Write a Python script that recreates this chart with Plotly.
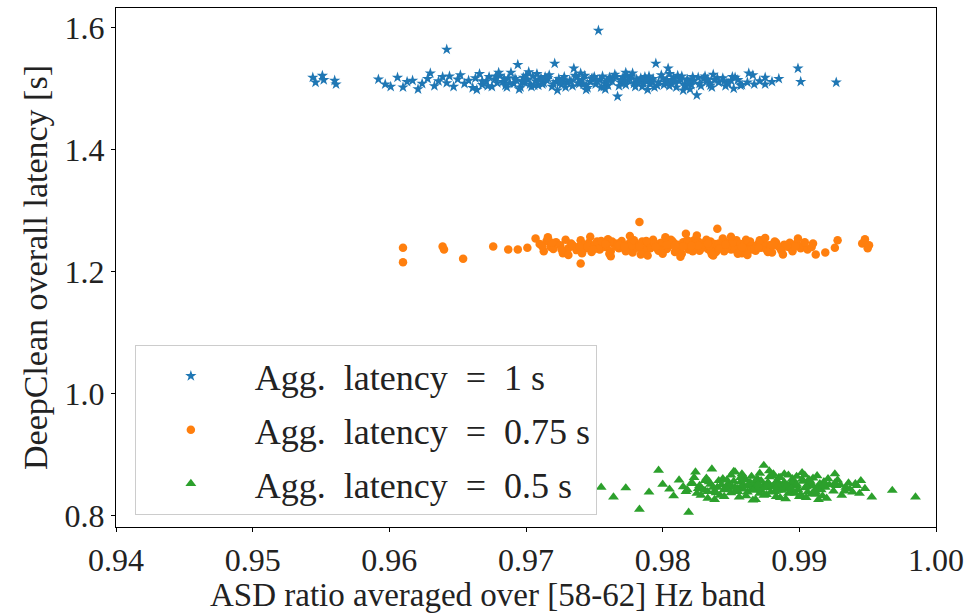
import plotly.graph_objects as go

# ---------------- data ----------------
blue_x = [
    0.9544, 0.9546, 0.9551, 0.9552, 0.9560, 0.9561, 0.9592, 0.9597, 0.9601, 0.9606,
    0.9610, 0.9613, 0.9617, 0.9621, 0.9624, 0.9628, 0.9630, 0.9633, 0.9636, 0.9639,
    0.9642, 0.9642, 0.9644, 0.9647, 0.9650, 0.9652, 0.9655, 0.9658, 0.9661, 0.9663,
    0.9666, 0.9668, 0.9671, 0.9673, 0.9675, 0.9677, 0.9679, 0.9681, 0.9683, 0.9685,
    0.9687, 0.9689, 0.9691, 0.9693, 0.9694, 0.9696, 0.9698, 0.9699, 0.9701, 0.9703,
    0.9705, 0.9707, 0.9709, 0.9711, 0.9713, 0.9715, 0.9717, 0.9719, 0.9721, 0.9722,
    0.9724, 0.9726, 0.9728, 0.9730, 0.9732, 0.9734, 0.9735, 0.9737, 0.9739, 0.9741,
    0.9743, 0.9745, 0.9747, 0.9749, 0.9751, 0.9753, 0.9754, 0.9756, 0.9758, 0.9760,
    0.9762, 0.9763, 0.9765, 0.9767, 0.9769, 0.9771, 0.9773, 0.9775, 0.9777, 0.9779,
    0.9781, 0.9783, 0.9785, 0.9787, 0.9789, 0.9791, 0.9793, 0.9795, 0.9797, 0.9799,
    0.9801, 0.9803, 0.9804, 0.9806, 0.9808, 0.9810, 0.9812, 0.9814, 0.9816, 0.9818,
    0.9820, 0.9822, 0.9825, 0.9827, 0.9830, 0.9832, 0.9835, 0.9838, 0.9841, 0.9844,
    0.9847, 0.9850, 0.9853, 0.9857, 0.9862, 0.9863, 0.9867, 0.9871, 0.9875, 0.9875,
    0.9880, 0.9885, 0.9899, 0.9901, 0.9927,
    0.9668, 0.9684, 0.9697, 0.9712, 0.9727, 0.9738, 0.9748, 0.9759, 0.9770, 0.9782,
    0.9792, 0.9802, 0.9813, 0.9823, 0.9834, 0.9845, 0.9855, 0.9704, 0.9733, 0.9776,
    0.9688, 0.9716, 0.9742, 0.9766, 0.9786, 0.9809, 0.9828, 0.9848, 0.9757, 0.9796,
    0.9672, 0.9678, 0.9686, 0.9692, 0.9700, 0.9706, 0.9714, 0.9720, 0.9729, 0.9736,
    0.9744, 0.9750, 0.9755, 0.9761, 0.9768, 0.9774, 0.9780, 0.9784, 0.9790, 0.9794,
    0.9800, 0.9805, 0.9811, 0.9817, 0.9821, 0.9826, 0.9831, 0.9836, 0.9840, 0.9846,
    0.9851, 0.9858, 0.9710, 0.9725, 0.9752, 0.9772, 0.9788, 0.9807, 0.9819, 0.9833,
    0.9664, 0.9680, 0.9695, 0.9708, 0.9723, 0.9740, 0.9758, 0.9773, 0.9789, 0.9805,
    0.9820, 0.9837, 0.9852, 0.9866, 0.9702, 0.9744, 0.9778, 0.9815, 0.9698, 0.9761,
]
blue_y = [
    1.518, 1.510, 1.521, 1.514, 1.513, 1.507, 1.515, 1.507, 1.503, 1.518,
    1.502, 1.511, 1.513, 1.499, 1.508, 1.516, 1.525, 1.504, 1.512, 1.519,
    1.564, 1.509, 1.520, 1.503, 1.515, 1.522, 1.508, 1.513, 1.501, 1.517,
    1.524, 1.506, 1.512, 1.519, 1.503, 1.515, 1.509, 1.521, 1.511, 1.505,
    1.517, 1.526, 1.508, 1.513, 1.539, 1.502, 1.518, 1.510, 1.515, 1.507,
    1.520, 1.512, 1.505, 1.517, 1.509, 1.514, 1.522, 1.503, 1.541, 1.511,
    1.516, 1.506, 1.519, 1.510, 1.513, 1.504, 1.533, 1.518, 1.508, 1.514,
    1.521, 1.501, 1.511, 1.517, 1.507, 1.595, 1.514, 1.520, 1.509, 1.505,
    1.516, 1.512, 1.523, 1.487, 1.510, 1.518, 1.506, 1.513, 1.520, 1.508,
    1.515, 1.511, 1.503, 1.519, 1.513, 1.507, 1.516, 1.541, 1.510, 1.522,
    1.506, 1.514, 1.533, 1.509, 1.518, 1.502, 1.512, 1.520, 1.507, 1.515,
    1.511, 1.519, 1.489, 1.508, 1.516, 1.512, 1.505, 1.514, 1.510, 1.517,
    1.509, 1.513, 1.518, 1.505, 1.510, 1.525, 1.507, 1.512, 1.518, 1.507,
    1.511, 1.516, 1.533, 1.511, 1.510,
    1.512, 1.516, 1.511, 1.507, 1.513, 1.509, 1.516, 1.511, 1.514, 1.509,
    1.512, 1.510, 1.515, 1.513, 1.509, 1.512, 1.514, 1.503, 1.511, 1.516,
    1.509, 1.517, 1.507, 1.519, 1.508, 1.511, 1.504, 1.508, 1.503, 1.505,
    1.504, 1.520, 1.502, 1.516, 1.521, 1.505, 1.519, 1.507, 1.502, 1.521,
    1.505, 1.519, 1.502, 1.518, 1.504, 1.521, 1.503, 1.517, 1.520, 1.502,
    1.517, 1.504, 1.521, 1.503, 1.506, 1.518, 1.520, 1.502, 1.517, 1.504,
    1.519, 1.506, 1.514, 1.510, 1.512, 1.509, 1.514, 1.513, 1.510, 1.515,
    1.498, 1.526, 1.499, 1.524, 1.497, 1.525, 1.499, 1.526, 1.498, 1.524,
    1.499, 1.523, 1.500, 1.522, 1.527, 1.498, 1.525, 1.497, 1.511, 1.513,
]

orange_x = [
    0.9610, 0.9610, 0.9639, 0.9640, 0.9654, 0.9676, 0.9687, 0.9694, 0.9701, 0.9707,
    0.9710, 0.9713, 0.9715, 0.9718, 0.9720, 0.9722, 0.9725, 0.9727, 0.9729, 0.9731,
    0.9733, 0.9735, 0.9737, 0.9740, 0.9740, 0.9742, 0.9744, 0.9746, 0.9748, 0.9750,
    0.9752, 0.9754, 0.9756, 0.9758, 0.9760, 0.9762, 0.9764, 0.9766, 0.9768, 0.9770,
    0.9772, 0.9774, 0.9776, 0.9778, 0.9780, 0.9782, 0.9783, 0.9785, 0.9787, 0.9789,
    0.9791, 0.9793, 0.9795, 0.9797, 0.9799, 0.9801, 0.9803, 0.9805, 0.9807, 0.9809,
    0.9811, 0.9813, 0.9815, 0.9817, 0.9819, 0.9821, 0.9823, 0.9825, 0.9827, 0.9829,
    0.9831, 0.9833, 0.9835, 0.9837, 0.9839, 0.9840, 0.9842, 0.9844, 0.9846, 0.9848,
    0.9850, 0.9852, 0.9854, 0.9856, 0.9858, 0.9860, 0.9862, 0.9864, 0.9866, 0.9868,
    0.9870, 0.9872, 0.9874, 0.9876, 0.9878, 0.9880, 0.9883, 0.9886, 0.9889, 0.9892,
    0.9895, 0.9898, 0.9901, 0.9903, 0.9906, 0.9909, 0.9912, 0.9919, 0.9926, 0.9928,
    0.9946, 0.9948, 0.9950, 0.9951,
    0.9745, 0.9757, 0.9769, 0.9781, 0.9792, 0.9804, 0.9816, 0.9828, 0.9838, 0.9849,
    0.9859, 0.9869, 0.9879, 0.9763, 0.9786, 0.9808, 0.9830, 0.9853, 0.9873, 0.9799,
    0.9753, 0.9777, 0.9798, 0.9820, 0.9843, 0.9863, 0.9884, 0.9812, 0.9835, 0.9790,
    0.9712, 0.9719, 0.9726, 0.9734, 0.9741, 0.9749, 0.9755, 0.9761, 0.9767, 0.9773,
    0.9779, 0.9784, 0.9788, 0.9794, 0.9800, 0.9806, 0.9810, 0.9814, 0.9818, 0.9822,
    0.9826, 0.9832, 0.9836, 0.9841, 0.9845, 0.9851, 0.9855, 0.9861, 0.9865, 0.9871,
    0.9877, 0.9882, 0.9887, 0.9893, 0.9897, 0.9904, 0.9771, 0.9783, 0.9796, 0.9803,
    0.9815, 0.9824, 0.9834, 0.9847, 0.9857, 0.9867, 0.9759, 0.9826, 0.9842, 0.9881,
    0.9716, 0.9731, 0.9747, 0.9762, 0.9776, 0.9789, 0.9802, 0.9813, 0.9825, 0.9837,
    0.9850, 0.9862, 0.9875, 0.9888, 0.9899, 0.9739, 0.9768, 0.9795, 0.9821, 0.9846,
    0.9870, 0.9891, 0.9758, 0.9783, 0.9809, 0.9833, 0.9858, 0.9880, 0.9910, 0.9772,
]
orange_y = [
    1.239, 1.215, 1.241, 1.236, 1.221, 1.241, 1.236, 1.236, 1.239, 1.254,
    1.245, 1.233, 1.250, 1.240, 1.237, 1.248, 1.243, 1.230, 1.252, 1.238,
    1.246, 1.241, 1.235, 1.213, 1.251, 1.244, 1.238, 1.247, 1.232, 1.242,
    1.249, 1.236, 1.244, 1.240, 1.253, 1.233, 1.246, 1.241, 1.238, 1.250,
    1.243, 1.236, 1.247, 1.231, 1.245, 1.240, 1.281, 1.249, 1.235, 1.244,
    1.238, 1.252, 1.242, 1.234, 1.247, 1.241, 1.237, 1.245, 1.250, 1.232,
    1.244, 1.239, 1.248, 1.262, 1.236, 1.243, 1.251, 1.240, 1.234, 1.246,
    1.241, 1.237, 1.249, 1.244, 1.232, 1.270, 1.242, 1.254, 1.238, 1.247,
    1.236, 1.243, 1.251, 1.240, 1.230, 1.246, 1.238, 1.249, 1.241, 1.234,
    1.245, 1.239, 1.252, 1.236, 1.243, 1.231, 1.247, 1.238, 1.244, 1.240,
    1.233, 1.246, 1.238, 1.243, 1.236, 1.240, 1.228, 1.231, 1.239, 1.251,
    1.246, 1.253, 1.238, 1.243,
    1.240, 1.243, 1.245, 1.239, 1.244, 1.240, 1.242, 1.238, 1.245, 1.242,
    1.239, 1.243, 1.240, 1.249, 1.236, 1.247, 1.244, 1.236, 1.247, 1.240,
    1.237, 1.242, 1.246, 1.247, 1.240, 1.236, 1.242, 1.235, 1.233, 1.247,
    1.241, 1.247, 1.236, 1.243, 1.230, 1.236, 1.250, 1.229, 1.246, 1.233,
    1.251, 1.228, 1.250, 1.246, 1.229, 1.252, 1.236, 1.229, 1.251, 1.233,
    1.249, 1.252, 1.228, 1.246, 1.233, 1.247, 1.229, 1.252, 1.236, 1.251,
    1.232, 1.249, 1.234, 1.247, 1.241, 1.248, 1.240, 1.244, 1.238, 1.244,
    1.241, 1.245, 1.242, 1.240, 1.245, 1.237, 1.243, 1.242, 1.238, 1.244,
    1.256, 1.227, 1.257, 1.225, 1.258, 1.226, 1.256, 1.224, 1.259, 1.226,
    1.257, 1.227, 1.255, 1.228, 1.254, 1.241, 1.243, 1.240, 1.242, 1.244,
    1.239, 1.242, 1.245, 1.241, 1.243, 1.246, 1.240, 1.244, 1.246, 1.241,
]

green_x = [
    0.9755, 0.9764, 0.9773, 0.9783, 0.9790, 0.9797, 0.9800, 0.9805, 0.9808, 0.9812,
    0.9815, 0.9817, 0.9819, 0.9821, 0.9823, 0.9825, 0.9827, 0.9829, 0.9831, 0.9833,
    0.9835, 0.9836, 0.9838, 0.9840, 0.9842, 0.9844, 0.9846, 0.9848, 0.9850, 0.9852,
    0.9853, 0.9854, 0.9856, 0.9858, 0.9860, 0.9862, 0.9864, 0.9866, 0.9868, 0.9870,
    0.9872, 0.9874, 0.9874, 0.9876, 0.9878, 0.9880, 0.9882, 0.9884, 0.9886, 0.9888,
    0.9890, 0.9892, 0.9894, 0.9896, 0.9898, 0.9900, 0.9902, 0.9904, 0.9906, 0.9908,
    0.9910, 0.9912, 0.9914, 0.9916, 0.9918, 0.9920, 0.9922, 0.9925, 0.9928, 0.9931,
    0.9934, 0.9936, 0.9939, 0.9942, 0.9945, 0.9948, 0.9953, 0.9968, 0.9985,
    0.9826, 0.9834, 0.9843, 0.9851, 0.9859, 0.9867, 0.9875, 0.9883, 0.9891, 0.9899,
    0.9907, 0.9915, 0.9839, 0.9857, 0.9871, 0.9887, 0.9903, 0.9919, 0.9863, 0.9879,
    0.9847, 0.9869, 0.9885, 0.9897, 0.9911, 0.9831, 0.9855, 0.9877, 0.9893, 0.9909,
    0.9881, 0.9865, 0.9849, 0.9895, 0.9913, 0.9927, 0.9933, 0.9818, 0.9873, 0.9889,
    0.9822, 0.9828, 0.9832, 0.9837, 0.9841, 0.9845, 0.9850, 0.9855, 0.9858, 0.9861,
    0.9865, 0.9868, 0.9871, 0.9874, 0.9877, 0.9880, 0.9883, 0.9886, 0.9889, 0.9892,
    0.9895, 0.9898, 0.9901, 0.9904, 0.9907, 0.9910, 0.9913, 0.9917, 0.9921, 0.9926,
    0.9853, 0.9859, 0.9864, 0.9869, 0.9876, 0.9882, 0.9887, 0.9893, 0.9898, 0.9905,
    0.9845, 0.9872, 0.9891, 0.9912, 0.9930, 0.9937, 0.9941, 0.9944, 0.9866, 0.9884,
    0.9824, 0.9838, 0.9852, 0.9866, 0.9878, 0.9890, 0.9902, 0.9914, 0.9926, 0.9846,
    0.9870, 0.9894, 0.9918, 0.9860, 0.9884, 0.9908, 0.9833, 0.9857, 0.9881, 0.9905,
]
green_y = [
    0.846, 0.830, 0.845, 0.810, 0.838, 0.874, 0.851, 0.843, 0.832, 0.858,
    0.847, 0.839, 0.805, 0.853, 0.862, 0.836, 0.849, 0.843, 0.857, 0.828,
    0.851, 0.876, 0.840, 0.846, 0.833, 0.860, 0.844, 0.852, 0.837, 0.856,
    0.871, 0.842, 0.830, 0.849, 0.861, 0.838, 0.853, 0.845, 0.826, 0.858,
    0.841, 0.882, 0.850, 0.834, 0.863, 0.847, 0.839, 0.856, 0.829, 0.851,
    0.843, 0.866, 0.837, 0.854, 0.848, 0.831, 0.859, 0.845, 0.838, 0.852,
    0.861, 0.835, 0.847, 0.842, 0.855, 0.828, 0.850, 0.840, 0.858, 0.833,
    0.846, 0.853, 0.838, 0.849, 0.857, 0.844, 0.830, 0.841, 0.830,
    0.844, 0.855, 0.850, 0.846, 0.843, 0.851, 0.845, 0.853, 0.848, 0.842,
    0.849, 0.852, 0.837, 0.855, 0.836, 0.841, 0.856, 0.846, 0.848, 0.838,
    0.858, 0.860, 0.862, 0.836, 0.840, 0.841, 0.844, 0.854, 0.851, 0.835,
    0.847, 0.843, 0.848, 0.860, 0.845, 0.849, 0.840, 0.842, 0.846, 0.854,
    0.852, 0.833, 0.861, 0.846, 0.857, 0.831, 0.866, 0.839, 0.868, 0.832,
    0.864, 0.847, 0.869, 0.833, 0.853, 0.865, 0.831, 0.862, 0.868, 0.836,
    0.853, 0.864, 0.834, 0.866, 0.859, 0.848, 0.865, 0.832, 0.860, 0.853,
    0.846, 0.850, 0.854, 0.844, 0.849, 0.852, 0.847, 0.845, 0.851, 0.847,
    0.842, 0.857, 0.850, 0.838, 0.850, 0.843, 0.852, 0.836, 0.841, 0.849,
    0.871, 0.826, 0.872, 0.825, 0.873, 0.827, 0.870, 0.826, 0.868, 0.846,
    0.851, 0.844, 0.850, 0.858, 0.841, 0.856, 0.839, 0.862, 0.868, 0.829,
]

NB = "\u00a0"
series_names = [
    NB + "Agg." + NB * 2 + "latency" + NB * 2 + "=" + NB * 2 + "1" + NB + "s",
    NB + "Agg." + NB * 2 + "latency" + NB * 2 + "=" + NB * 2 + "0.75" + NB + "s",
    NB + "Agg." + NB * 2 + "latency" + NB * 2 + "=" + NB * 2 + "0.5" + NB + "s",
]
x_title = "ASD ratio averaged over [58-62] Hz band"
y_title = "DeepClean overall latency [s]"
x_ticks = [0.94, 0.95, 0.96, 0.97, 0.98, 0.99, 1.00]
y_ticks = [0.8, 1.0, 1.2, 1.4, 1.6]

FONT = "Liberation Serif"

fig = go.Figure()
specs = [
    (blue_x, blue_y, "#1f77b4", "star", 8.5),
    (orange_x, orange_y, "#ff7f0e", "circle", 8.5),
    (green_x, green_y, "#2ca02c", "triangle-up", 9.5),
]
for i, (xs, ys, col, sym, sz) in enumerate(specs):
    fig.add_trace(go.Scatter(
        x=xs, y=ys, mode="markers", name=series_names[i],
        legendgroup=f"g{i}",
        marker=dict(color=col, symbol=sym, size=sz, line=dict(width=0)),
    ))

axis_common = dict(
    showline=True, linecolor="black", linewidth=1.2, mirror=True,
    ticks="outside", ticklen=4, tickcolor="black", tickwidth=1.2,
    showgrid=False, zeroline=False,
    tickfont=dict(family=FONT, size=32, color="#222"),
)
fig.update_layout(
    width=971, height=614,
    margin=dict(l=116, r=35, t=8, b=87),
    paper_bgcolor="white", plot_bgcolor="white",
    font=dict(family=FONT, color="#222"),
    xaxis=dict(range=[0.94, 1.00], tickvals=x_ticks, tickformat=".2f",
               **axis_common),
    yaxis=dict(range=[0.781, 1.632], tickvals=y_ticks, tickformat=".1f",
               title=dict(text=y_title, font=dict(family=FONT, size=34), standoff=6),
               **axis_common),
    legend=dict(
        x=0.023, y=0.023, xanchor="left", yanchor="bottom",
        bgcolor="rgba(255,255,255,0.8)", bordercolor="#cccccc", borderwidth=1,
        font=dict(family=FONT, size=36, color="#222"),
        tracegroupgap=4, traceorder="grouped", itemwidth=100,
    ),
    showlegend=True,
    annotations=[dict(
        text=x_title, xref="paper", yref="paper",
        x=0.4537, y=0.0, yshift=-68, xanchor="center", yanchor="middle",
        showarrow=False, font=dict(family=FONT, size=33, color="#222"),
    )],
)

fig.write_html("out.html")
